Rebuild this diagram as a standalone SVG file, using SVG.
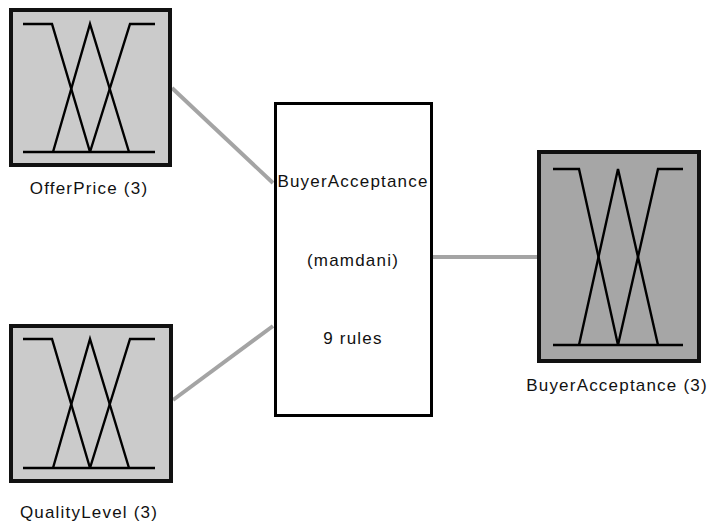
<svg xmlns="http://www.w3.org/2000/svg" width="716" height="521" viewBox="0 0 716 521">
  <defs>
    <style>
      .var { stroke: #111; stroke-width: 4; }
      .in { fill: #cbcbcb; }
      .out { fill: #a6a6a6; }
      .mf { fill: none; stroke: #000; stroke-width: 2.4; stroke-linejoin: miter; }
      .sys { fill: #fff; stroke: #000; stroke-width: 3; }
      .edge { stroke: #a4a4a4; stroke-width: 4; fill: none; }
      .lbl { font-family: "Liberation Sans", Arial, sans-serif; font-size: 17px; fill: #111; letter-spacing: 1.2px; text-anchor: middle; }
    </style>
  </defs>
  <rect width="716" height="521" fill="#fff"/>

  <!-- connectors -->
  <g id="connectors">
    <line class="edge" x1="172" y1="88" x2="273" y2="183"/>
    <line class="edge" x1="173" y1="400" x2="273" y2="326"/>
    <line class="edge" x1="433" y1="257" x2="537" y2="257"/>
  </g>

  <!-- input: OfferPrice -->
  <g id="offerprice">
    <rect class="var in" x="11" y="10" width="159" height="155"/>
    <polyline class="mf" points="23,24 52,24 90,152"/>
    <polyline class="mf" points="53,152 90,24 129,152"/>
    <polyline class="mf" points="90,152 130,24 155,24"/>
    <line class="mf" x1="23" y1="152" x2="155" y2="152"/>
    <text class="lbl" x="89" y="194">OfferPrice (3)</text>
  </g>

  <!-- input: QualityLevel -->
  <g id="qualitylevel">
    <rect class="var in" x="11" y="326" width="160" height="155"/>
    <polyline class="mf" points="23,339 52,339 90,468"/>
    <polyline class="mf" points="53,468 90,339 129,468"/>
    <polyline class="mf" points="90,468 130,339 155,339"/>
    <line class="mf" x1="23" y1="468" x2="155" y2="468"/>
    <text class="lbl" x="89" y="518">QualityLevel (3)</text>
  </g>

  <!-- inference system -->
  <g id="system">
    <rect class="sys" x="275.5" y="103.5" width="156" height="312"/>
    <text class="lbl" x="353" y="187">BuyerAcceptance</text>
    <text class="lbl" x="353" y="266">(mamdani)</text>
    <text class="lbl" x="353" y="344">9 rules</text>
  </g>

  <!-- output: BuyerAcceptance -->
  <g id="buyeracceptance">
    <rect class="var out" x="539" y="152" width="160" height="209"/>
    <polyline class="mf" points="553,169 579,169 618,345"/>
    <polyline class="mf" points="579,345 618,169 658,345"/>
    <polyline class="mf" points="618,345 658,169 683,169"/>
    <line class="mf" x1="553" y1="345" x2="683" y2="345"/>
    <text class="lbl" x="617" y="391">BuyerAcceptance (3)</text>
  </g>
</svg>
